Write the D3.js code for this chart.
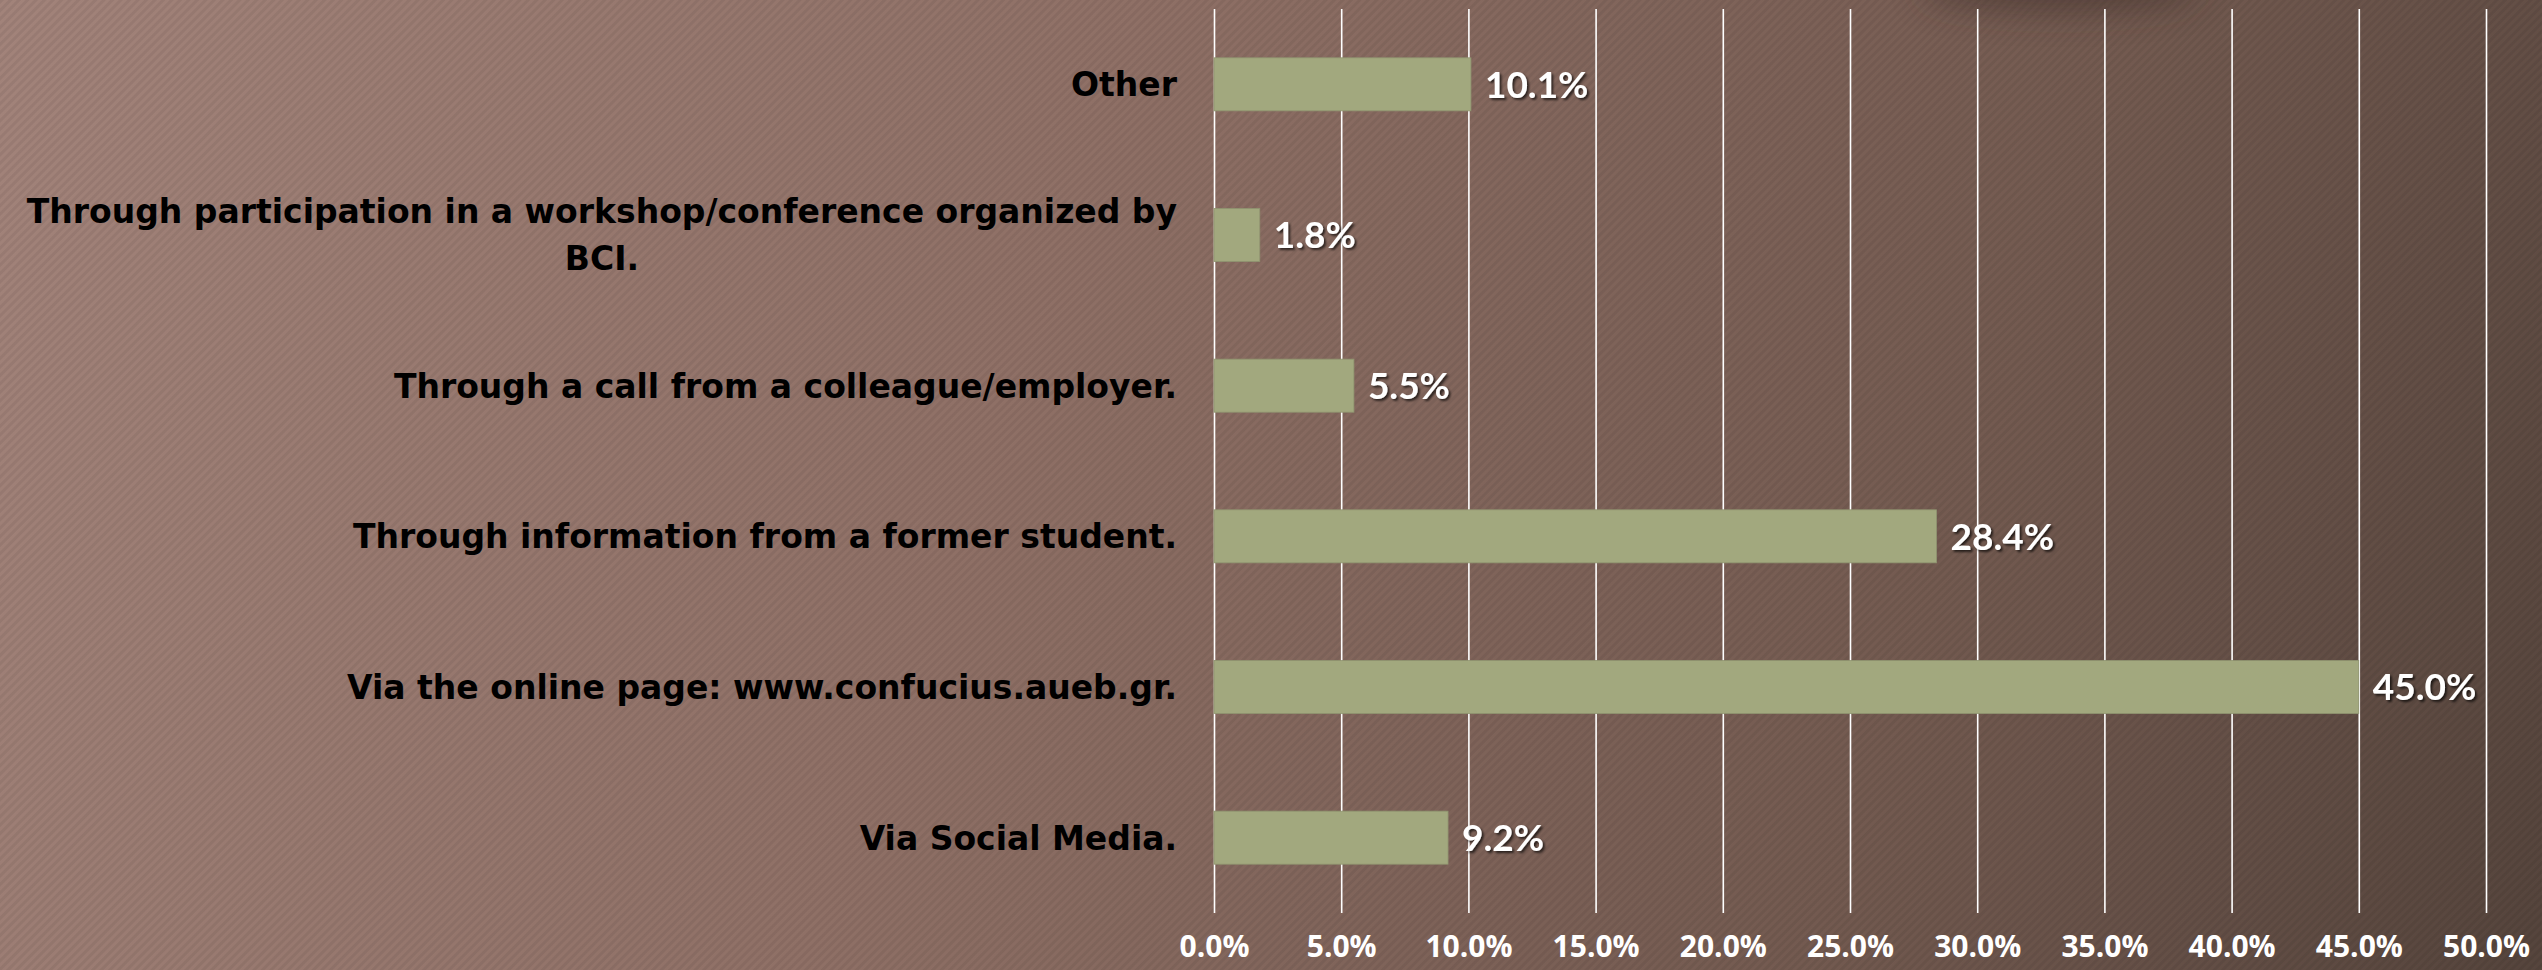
<!DOCTYPE html>
<html>
<head>
<meta charset="utf-8">
<script src="https://cdn.jsdelivr.net/npm/d3@7"></script>
<style>
  html, body { margin: 0; padding: 0; overflow: hidden; }
  svg { display: block; }
  text { font-family: "Open Sans", Lato, sans-serif; font-weight: 700; }
</style>
</head>
<body>
<svg id="chart" width="2542" height="970"></svg>
<script>
// data, top to bottom as in the picture
const categories = [
  "Other",
  "Through participation in a workshop/conference organized by BCI.",
  "Through a call from a colleague/employer.",
  "Through information from a former student.",
  "Via the online page: www.confucius.aueb.gr.",
  "Via Social Media."
];
const values = [10.1, 1.8, 5.5, 28.4, 45.0, 9.2];
const xTicks = [0, 5, 10, 15, 20, 25, 30, 35, 40, 45, 50];

const W = 2542, H = 970;
const plot = { left: 1214, right: 2486, top: 9, bottom: 913 };
const labelRight = 1177;
const labelMaxWidth = 1190;

const svg = d3.select("#chart");
const defs = svg.append("defs");

// background gradient + diagonal stripes
const grad = defs.append("linearGradient")
  .attr("id", "bg")
  .attr("gradientUnits", "userSpaceOnUse")
  .attr("x1", 0).attr("y1", 0).attr("x2", 2542).attr("y2", 900);
grad.append("stop").attr("offset", "0%").attr("stop-color", "#a2837a");
grad.append("stop").attr("offset", "40%").attr("stop-color", "#8f7066");
grad.append("stop").attr("offset", "75%").attr("stop-color", "#735a50");
grad.append("stop").attr("offset", "100%").attr("stop-color", "#56453d");

const stripes = defs.append("pattern")
  .attr("id", "stripes")
  .attr("patternUnits", "userSpaceOnUse")
  .attr("width", 6).attr("height", 6)
  .attr("patternTransform", "rotate(45)");
stripes.append("rect")
  .attr("width", 3).attr("height", 6)
  .attr("fill", "#000").attr("opacity", 0.06);

const blur = defs.append("filter").attr("id", "blur")
  .attr("x", "-50%").attr("y", "-300%").attr("width", "200%").attr("height", "700%");
blur.append("feGaussianBlur").attr("stdDeviation", 16);

const shadow = defs.append("filter").attr("id", "shadow")
  .attr("x", "-10%").attr("y", "-20%").attr("width", "130%").attr("height", "150%");
shadow.append("feDropShadow")
  .attr("dx", 2).attr("dy", 2).attr("stdDeviation", 1.2)
  .attr("flood-color", "#000").attr("flood-opacity", 0.65);

svg.append("rect").attr("width", W).attr("height", H).attr("fill", "url(#bg)");
svg.append("rect").attr("width", W).attr("height", H).attr("fill", "url(#stripes)");

// faint dark smudge at the top edge
svg.append("ellipse")
  .attr("cx", 2060).attr("cy", -10)
  .attr("rx", 140).attr("ry", 22)
  .attr("fill", "#3b2b25").attr("opacity", 0.5)
  .attr("filter", "url(#blur)");

// scales
const x = d3.scaleLinear().domain([0, 50]).range([plot.left, plot.right]);
const y = d3.scaleBand()
  .domain(categories)
  .range([plot.top, plot.bottom])
  .paddingInner(0.648)
  .paddingOuter(0.324);

// gridlines
const grid = svg.append("g")
  .attr("transform", `translate(0,${plot.bottom})`)
  .call(d3.axisBottom(x).tickValues(xTicks).tickSize(-(plot.bottom - plot.top)).tickFormat(""));
grid.select(".domain").remove();
grid.selectAll("line").attr("stroke", "#ffffff").attr("stroke-width", 1.6);

// tick labels
const xAxis = svg.append("g")
  .attr("transform", `translate(0,${plot.bottom})`)
  .call(d3.axisBottom(x).tickValues(xTicks).tickSize(0)
    .tickFormat(d => d.toFixed(1) + "%"));
xAxis.select(".domain").remove();
xAxis.selectAll("text")
  .attr("y", 44)
  .attr("dy", 0)
  .attr("fill", "#ffffff")
  .attr("font-size", 30)
  .style("font-family", "'Open Sans', sans-serif")
  .style("font-weight", 700);

// bars
svg.append("g")
  .selectAll("rect")
  .data(values)
  .join("rect")
  .attr("x", x(0))
  .attr("y", (d, i) => y(categories[i]))
  .attr("width", d => x(d) - x(0))
  .attr("height", y.bandwidth())
  .attr("fill", "#a2a87e")
  .attr("stroke", "#8f9470")
  .attr("stroke-width", 0.8);

// value labels
svg.append("g")
  .selectAll("text")
  .data(values)
  .join("text")
  .attr("x", d => x(d) + 14)
  .attr("y", (d, i) => y(categories[i]) + y.bandwidth() / 2)
  .attr("dy", "0.36em")
  .attr("fill", "#ffffff")
  .attr("font-size", 37)
  .style("font-family", "Lato, sans-serif")
  .attr("filter", "url(#shadow)")
  .text(d => d.toFixed(1) + "%");

// category labels (wrapped, block right-aligned, lines centred)
const catG = svg.append("g");
categories.forEach(cat => {
  const cy = y(cat) + y.bandwidth() / 2;
  const t = catG.append("text")
    .attr("font-size", 33)
    .style("font-family", "'DejaVu Sans', sans-serif")
    .attr("fill", "#000000");
  // wrap words into lines
  const words = cat.split(" ");
  const lines = [];
  let line = [];
  const probe = t.append("tspan");
  words.forEach(w => {
    const test = line.concat([w]).join(" ");
    probe.text(test);
    if (probe.node().getComputedTextLength() > labelMaxWidth && line.length) {
      lines.push(line.join(" "));
      line = [w];
    } else {
      line.push(w);
    }
  });
  lines.push(line.join(" "));
  probe.remove();

  const lineH = 47;
  const widths = lines.map(l => {
    const s = t.append("tspan").text(l);
    const w = s.node().getComputedTextLength();
    s.remove();
    return w;
  });
  const maxW = d3.max(widths);
  const anchorX = lines.length > 1 ? labelRight - maxW / 2 : labelRight;
  t.attr("text-anchor", lines.length > 1 ? "middle" : "end");
  lines.forEach((l, k) => {
    t.append("tspan")
      .attr("x", anchorX)
      .attr("y", cy + (k - (lines.length - 1) / 2) * lineH)
      .attr("dy", "0.36em")
      .text(l);
  });
});
</script>
</body>
</html>
